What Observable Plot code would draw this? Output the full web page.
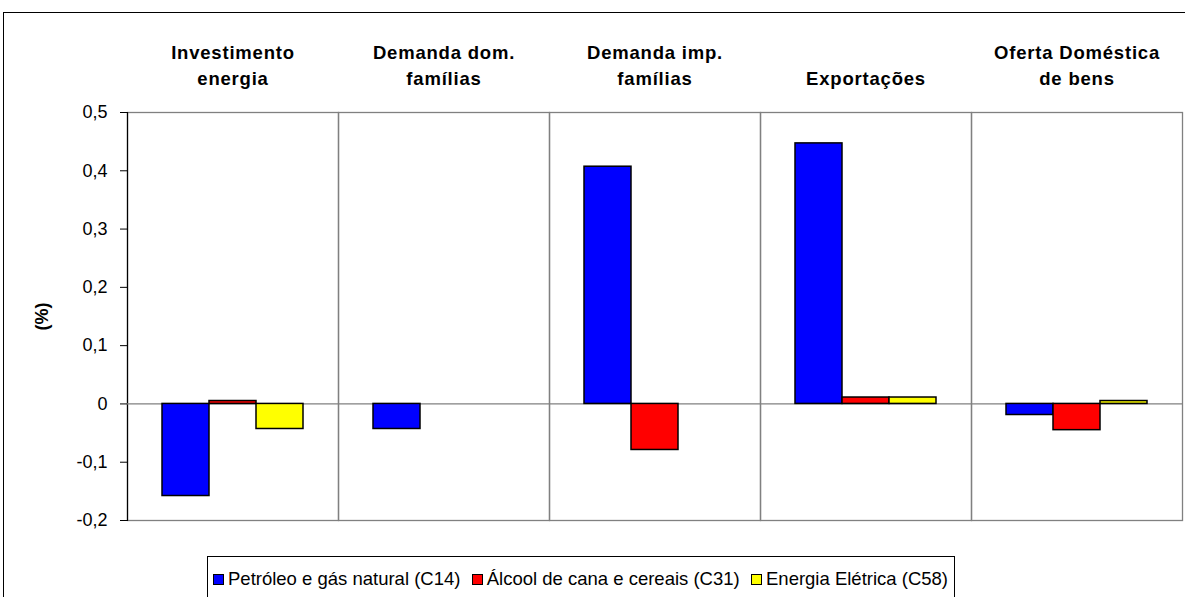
<!DOCTYPE html>
<html><head><meta charset="utf-8">
<script src="https://cdn.jsdelivr.net/npm/d3@7"></script>
<script src="https://cdn.jsdelivr.net/npm/@observablehq/plot@0.6"></script>
<style>
body{margin:0;background:#fff;font-family:"Liberation Sans",Arial,sans-serif;}
#wrap{position:relative;width:1185px;height:597px;overflow:hidden;background:#fff}
#frame{position:absolute;left:3px;top:12px;width:1200px;height:620px;border:1px solid #000;box-sizing:border-box}
#chart{position:absolute;left:0;top:0}
#legend{position:absolute;left:207px;top:556px;width:748px;height:60px;border:1px solid #000;box-sizing:border-box;padding:12px 6px 0 4px;display:flex;justify-content:space-between;align-items:flex-start;white-space:nowrap;font-family:"Liberation Sans",Arial,sans-serif;font-size:18.5px;line-height:20px;background:#fff}
#legend .it{display:flex;align-items:center}
#legend .sw{width:9px;height:9px;border:1px solid #000;margin-right:4px;margin-left:1px}
</style></head>
<body><div id="wrap"><div id="frame"></div><div id="chart"></div><div id="legend"></div></div>
<script>
const categories = ["Investimento\nenergia", "Demanda dom.\nfamílias", "Demanda imp.\nfamílias", "Exportações", "Oferta Doméstica\nde bens"];
const seriesNames = ["Petróleo e gás natural (C14)", "Álcool de cana e cereais (C31)", "Energia Elétrica (C58)"];
const petroleo = [-0.158, -0.043, 0.407, 0.447, -0.019];
const alcool   = [0.005, 0, -0.079, 0.011, -0.045];
const energia  = [-0.043, 0, 0, 0.011, 0.005];
const seriesColors = ["#0000ff", "#ff0000", "#ffff00"];
const yTicks = [-0.2, -0.1, 0, 0.1, 0.2, 0.3, 0.4, 0.5];
const yLabel = "(%)";

const seriesValues = [petroleo, alcool, energia];
const data = categories.flatMap((c, i) => seriesNames.map((s, j) => ({cat: c, series: s, value: seriesValues[j][i]})))
  .filter(d => d.value !== 0);

const fmt = d => d === 0 ? "0" : d.toFixed(1).replace(".", ",");

const chart = Plot.plot({
  width: 1185, height: 545,
  marginLeft: 126, marginRight: 3, marginTop: 112, marginBottom: 25,
  style: {fontFamily: "Liberation Sans, Arial, sans-serif", fontSize: "18px", background: "transparent", overflow: "visible", color: "#000"},
  fx: {domain: categories, padding: 0, label: null},
  x: {domain: seriesNames, paddingInner: 0, paddingOuter: 0.72, axis: null},
  y: {domain: [-0.2, 0.5]},
  color: {domain: seriesNames, range: seriesColors},
  marks: [
    Plot.frame({stroke: "#808080", strokeWidth: 1.3, strokeOpacity: 1}),
    Plot.frame({anchor: "left", facetAnchor: "left", stroke: "#000", strokeWidth: 1.2}),
    Plot.ruleY([0], {stroke: "#808080", strokeWidth: 1.3}),
    Plot.barY(data, {fx: "cat", x: "series", y: "value", fill: "series", stroke: "#000", strokeWidth: 1.5, inset: 0}),
    Plot.axisY({ticks: yTicks, tickFormat: fmt, tickSize: 7, tickPadding: 13, fontSize: 18,
      label: yLabel, labelAnchor: "center", labelArrow: "none", labelOffset: 92, stroke: "#000"}),
    Plot.axisFx({anchor: "top", tickSize: 0, tickPadding: 28, fontWeight: "bold", fontSize: 18.5, lineHeight: 1.4, label: null})
  ]
});
document.getElementById("chart").appendChild(chart);
chart.querySelectorAll("g[aria-label='y-axis label'] text").forEach(t => { t.setAttribute("font-weight", "bold"); t.setAttribute("font-size", "18"); });
chart.querySelectorAll("g[aria-label='fx-axis tick label'] text").forEach(t => t.style.letterSpacing = "0.8px");

const leg = document.getElementById("legend");
seriesNames.forEach((s, j) => {
  const it = document.createElement("div"); it.className = "it";
  const sw = document.createElement("div"); sw.className = "sw"; sw.style.background = seriesColors[j];
  const tx = document.createElement("span"); tx.textContent = s;
  it.appendChild(sw); it.appendChild(tx); leg.appendChild(it);
});
</script></body></html>
